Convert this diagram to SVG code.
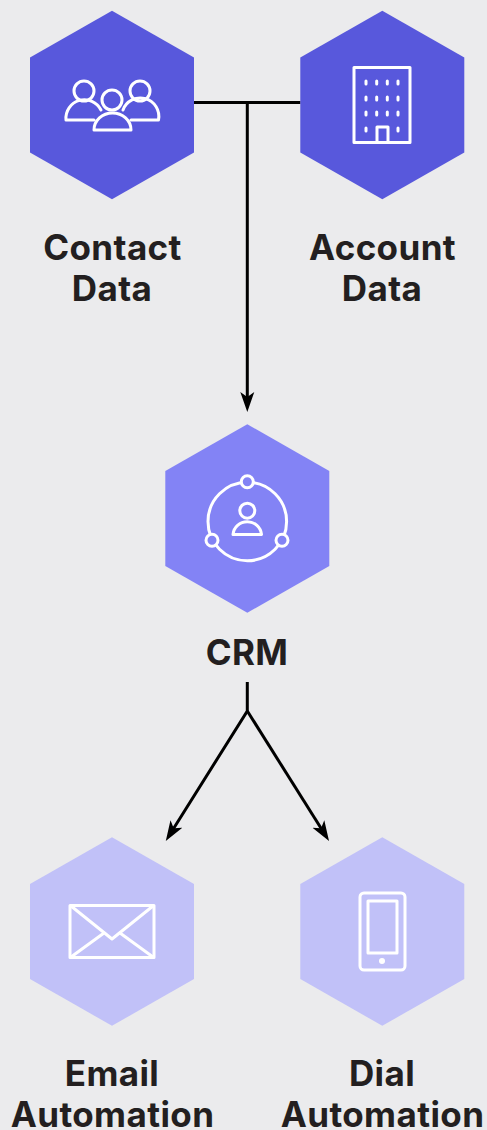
<svg xmlns="http://www.w3.org/2000/svg" width="487" height="1130" viewBox="0 0 487 1130">
<style>
.bg{fill:#ebebed}
.lbl{font-family:"Inter","Liberation Sans",sans-serif;font-weight:700;font-size:35px;letter-spacing:.4px;fill:#231f20;text-anchor:middle}
.ic{fill:none;stroke:#fff;stroke-width:3;stroke-linejoin:round;stroke-linecap:round}
.w{fill:#fff}
.c{fill:none;stroke:#000;stroke-width:3}
.d{fill:#5858dc}.m{fill:#8383f5}.l{fill:#c1c1f8}
</style>
<defs>
<polygon id="hex" points="0,-94.3 82,-47.5 82,47.5 0,94.3 -82,47.5 -82,-47.5"/>
<marker id="a" markerUnits="userSpaceOnUse" markerWidth="20" markerHeight="15" refX="13" refY="7.5" viewBox="0 0 20 15" orient="auto"><path d="M0,0.500L20,7.500L0,14.500L5,7.500Z" fill="#000"/></marker>
</defs>
<rect class="bg" width="487" height="1130"/>
<g id="connectors">
<path class="c" d="M194,102.500H300.500M247.300,102.500V405" marker-end="url(#a)"/>
<path class="c" d="M247.300,682V711L169.500,835" marker-end="url(#a)"/>
<path class="c" d="M247.300,711L325.300,835" marker-end="url(#a)"/>
</g>
<g id="contact">
<use href="#hex" class="d" x="112" y="105"/>
<g class="ic"><circle cx="84" cy="91" r="10"/><circle cx="140" cy="91" r="10"/><circle cx="112" cy="100" r="10"/>
<path d="M66,120A18.500,18.500 0 0 1 101,110M66,120H94M123,110A18.500,18.500 0 0 1 158.500,120H131"/>
<path d="M94,130A18.500,17 0 0 1 131,130Z"/></g>
<text class="lbl" x="112.500" y="260">Contact</text><text class="lbl" x="112" y="301">Data</text>
</g>
<g id="account">
<use href="#hex" class="d" x="382.300" y="105"/>
<g class="ic"><rect x="354" y="67.500" width="56" height="75"/><path d="M377,142V127H388V142"/>
<path d="M366,81v3M376.700,81v3M387.300,81v3M398,81v3M366,97v3M376.700,97v3M387.300,97v3M398,97v3M366,112v3M376.700,112v3M387.300,112v3M398,112v3M366,128v3M398,128v3"/></g>
<text class="lbl" x="382.500" y="260">Account</text><text class="lbl" x="382" y="301">Data</text>
</g>
<g id="crm">
<use href="#hex" class="m" x="247.300" y="518.500"/>
<g class="ic"><circle cx="247.300" cy="521.500" r="39.300"/>
<circle class="m" cx="247.300" cy="481.700" r="6"/><circle class="m" cx="212" cy="540.300" r="6"/><circle class="m" cx="282" cy="540.300" r="6"/>
<circle cx="247.300" cy="510.700" r="7.500"/><path d="M233,534.500A14.300,14 0 0 1 261.500,534.500Z"/></g>
<text class="lbl" x="247" y="665">CRM</text>
</g>
<g id="email">
<use href="#hex" class="l" x="112" y="931.500"/>
<g class="ic"><rect x="70" y="905.500" width="84" height="52"/><path d="M71,906L112,939L153,906M71,957L104,933M120,933L153,957"/></g>
<text class="lbl" x="112" y="1086">Email</text><text class="lbl" x="112.500" y="1127">Automation</text>
</g>
<g id="dial">
<use href="#hex" class="l" x="382.300" y="931.500"/>
<g class="ic"><rect x="360" y="893" width="45" height="77" rx="4"/><rect x="368" y="901" width="29" height="52"/></g>
<circle class="w" cx="382" cy="961" r="3"/>
<text class="lbl" x="382" y="1086">Dial</text><text class="lbl" x="382.500" y="1127">Automation</text>
</g>
</svg>
